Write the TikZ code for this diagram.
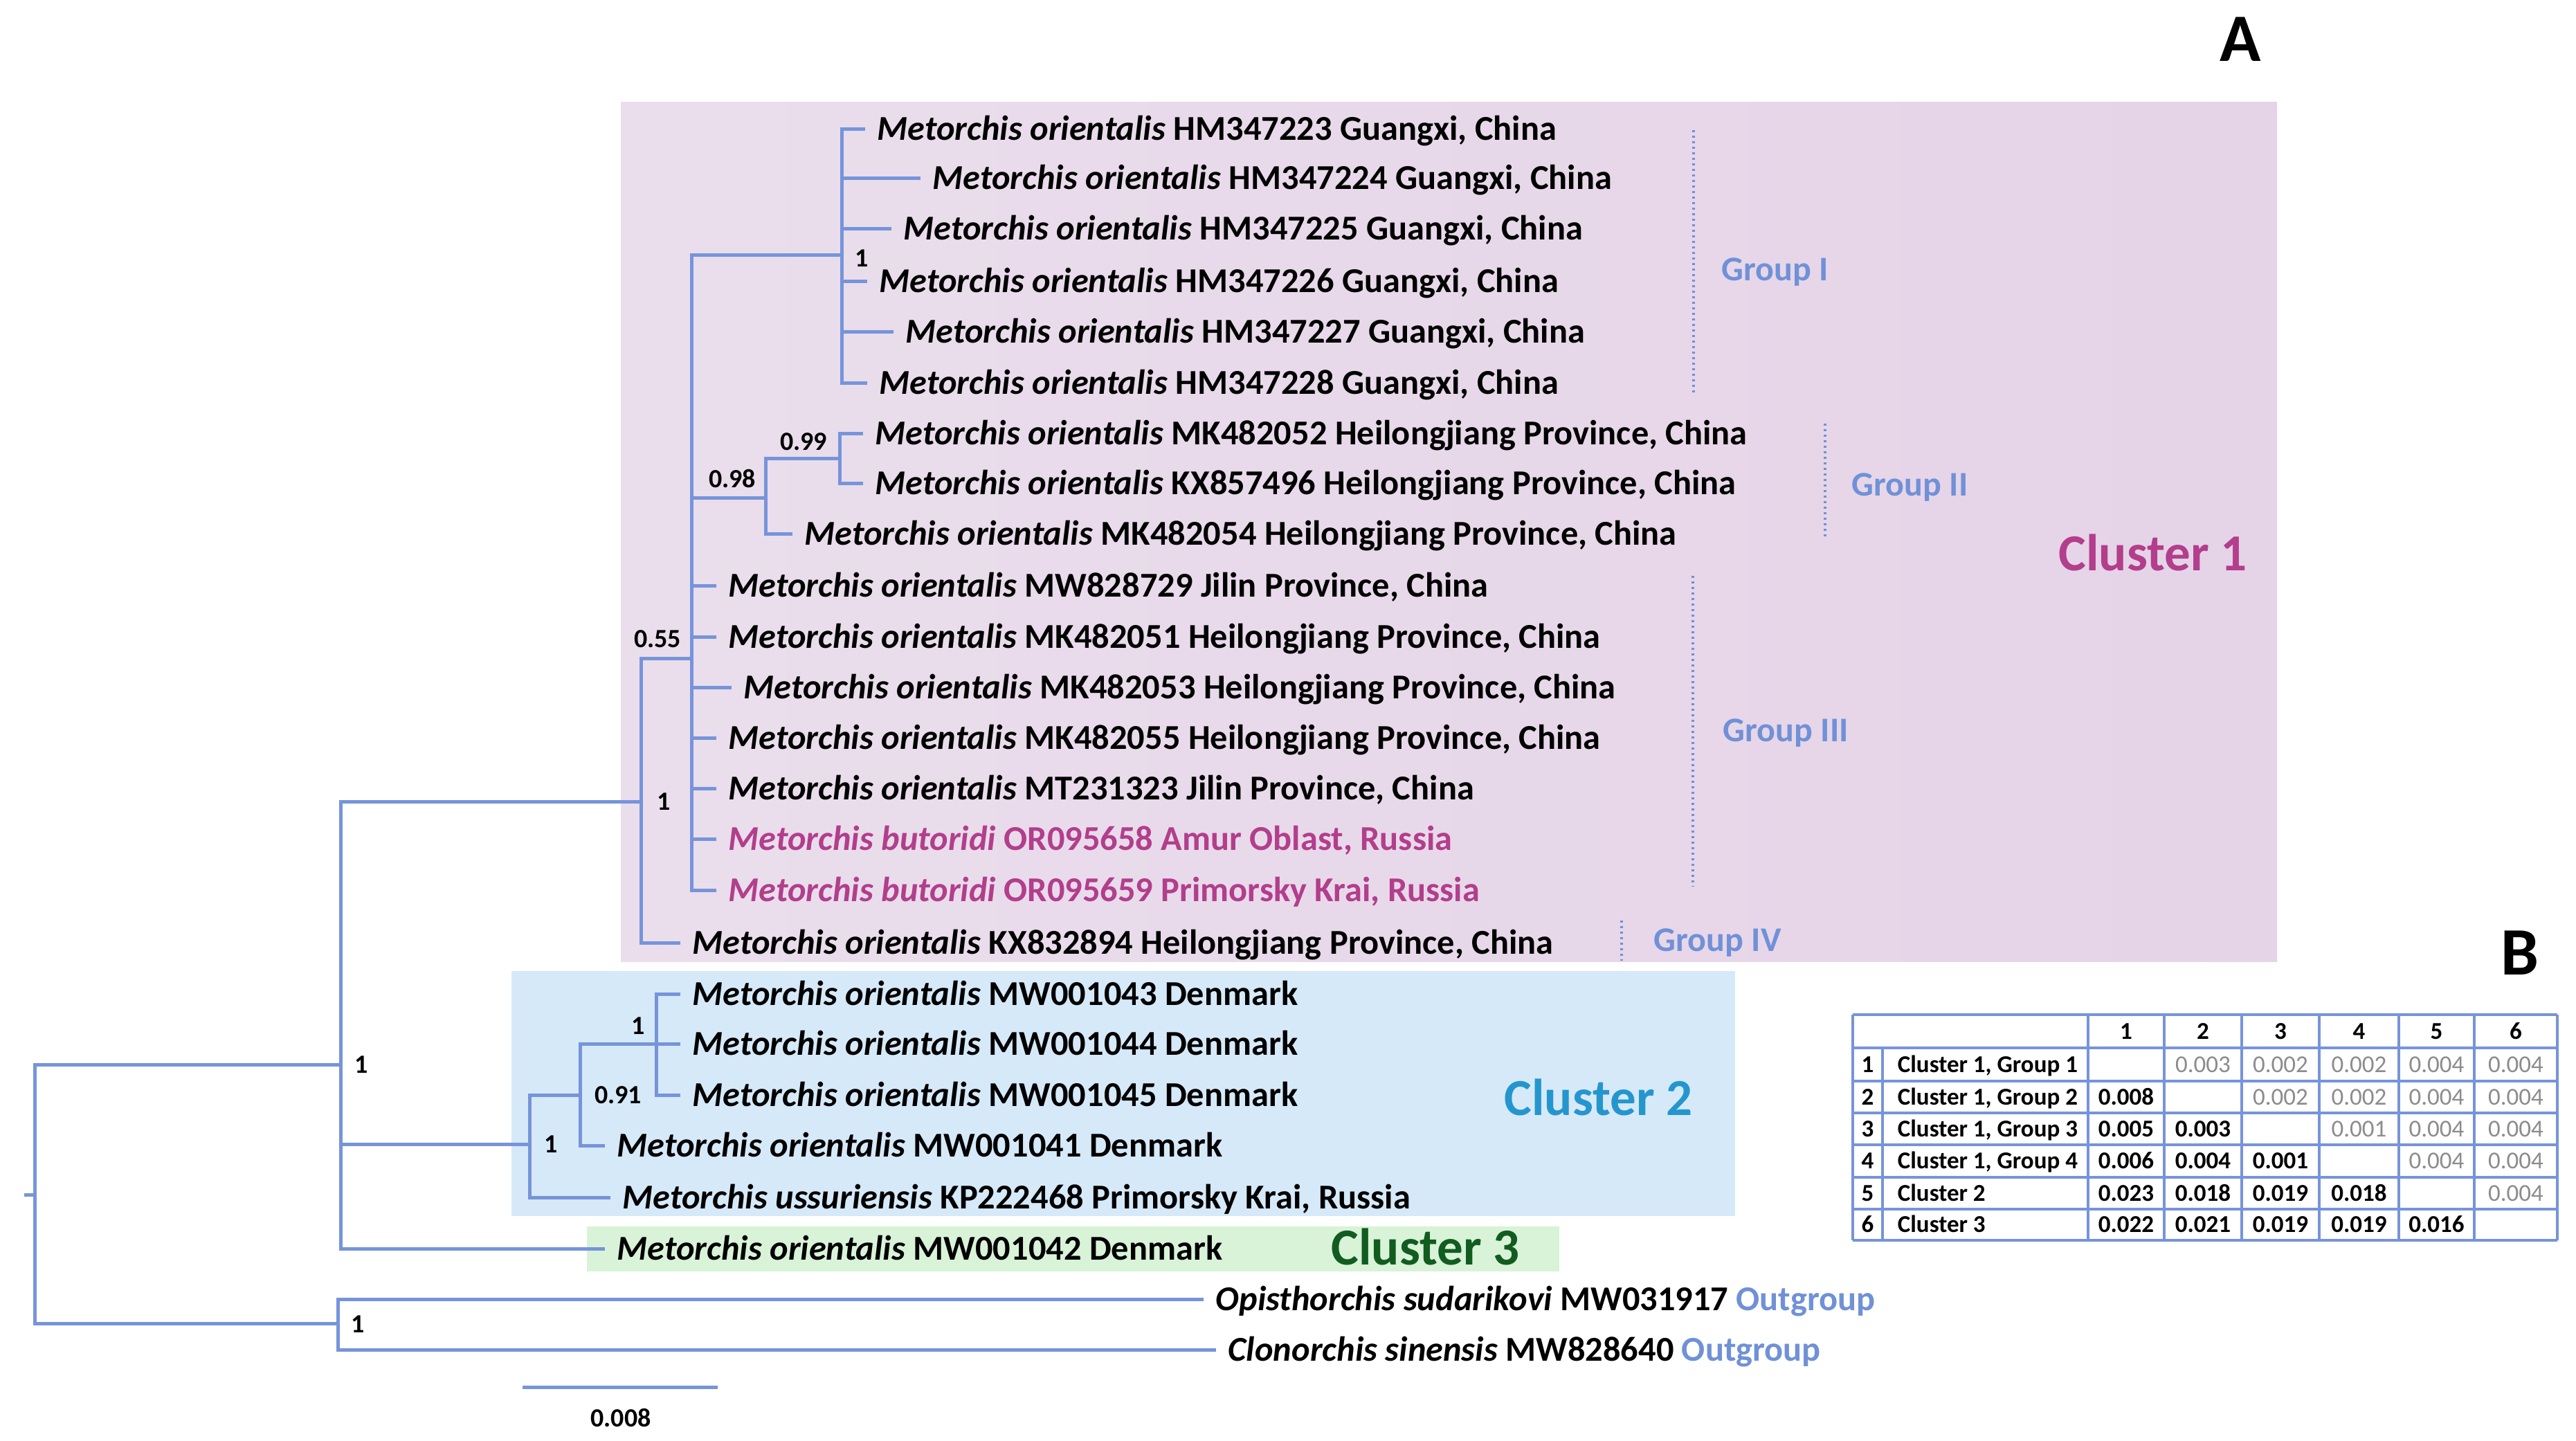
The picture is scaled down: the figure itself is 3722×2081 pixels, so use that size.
\documentclass[tikz,border=0pt]{standalone}
\usepackage{fontspec}
\setmainfont{Carlito}
\definecolor{brc}{RGB}{118,148,218}
\definecolor{grpc}{RGB}{112,145,215}
\definecolor{magc}{RGB}{178,62,140}
\definecolor{c2txt}{RGB}{37,150,205}
\definecolor{c3txt}{RGB}{18,92,32}
\definecolor{c1a}{RGB}{234,222,236}
\definecolor{c1b}{RGB}{229,211,231}
\definecolor{c2bg}{RGB}{214,233,248}
\definecolor{c3bg}{RGB}{216,243,216}
\definecolor{gryc}{RGB}{140,140,140}
\begin{document}
\begin{tikzpicture}[x=0.25pt,y=-0.25pt,
  br/.style={draw=brc,line width=1.25pt},
  leaf/.style={anchor=west,inner xsep=4.25pt,inner ysep=0pt,text height=8pt,text depth=0pt,font=\fontsize{12.6}{14}\selectfont\bfseries},
  suplab/.style={inner sep=0pt,font=\fontsize{9.5}{11}\selectfont\bfseries},
  grplab/.style={anchor=west,inner sep=0pt,text height=8pt,text depth=0pt,text=grpc,font=\fontsize{12.5}{14}\selectfont\bfseries},
  grpline/.style={draw=grpc,line width=1pt,dash pattern=on 0.7pt off 1.3pt},
  clab/.style={anchor=west,inner sep=0pt,text height=12pt,text depth=0pt,font=\fontsize{18.75}{22}\selectfont\bfseries},
  bigl/.style={inner sep=0pt,font=\fontsize{24.5}{28}\selectfont\bfseries},
  tabtxt/.style={inner sep=0pt,text height=5.6pt,text depth=0pt,font=\fontsize{8.75}{10}\selectfont\bfseries},
  tabg/.style={inner sep=0pt,text height=5.6pt,text depth=0pt,font=\fontsize{8.75}{10}\selectfont,text=gryc},
  tline/.style={draw=brc,line width=1pt},
]
\fill[white] (0,0) rectangle (3722,2081);
\useasboundingbox (0,0) rectangle (3722,2081);

% cluster boxes
\shade[left color=c1a,right color=c1b] (897,147) rectangle (3290,1389);
\fill[c2bg] (739,1403) rectangle (2507,1757);
\fill[c3bg] (848,1772) rectangle (2253,1837);

% internal nodes
\coordinate (stub) at (35,1726);
\coordinate (root) at (50,1726);
\coordinate (nIn) at (492,1538);
\coordinate (nOut) at (488,1912);
\coordinate (nC1) at (926,1158);
\coordinate (n055) at (999,951);
\coordinate (nG1) at (1216,368);
\coordinate (n098) at (1106,719);
\coordinate (n099) at (1213,662);
\coordinate (nC2) at (765,1653);
\coordinate (n091) at (838,1582);
\coordinate (nD3) at (948,1508);

% leaves
\node[leaf] (l1) at (1250,186) {\textit{Metorchis orientalis} HM347223 Guangxi, China};
\node[leaf] (l2) at (1330,257) {\textit{Metorchis orientalis} HM347224 Guangxi, China};
\node[leaf] (l3) at (1288,330) {\textit{Metorchis orientalis} HM347225 Guangxi, China};
\node[leaf] (l4) at (1253,406) {\textit{Metorchis orientalis} HM347226 Guangxi, China};
\node[leaf] (l5) at (1291,479) {\textit{Metorchis orientalis} HM347227 Guangxi, China};
\node[leaf] (l6) at (1253,553) {\textit{Metorchis orientalis} HM347228 Guangxi, China};
\node[leaf] (l7) at (1247,626) {\textit{Metorchis orientalis} MK482052 Heilongjiang Province, China};
\node[leaf] (l8) at (1247,698) {\textit{Metorchis orientalis} KX857496 Heilongjiang Province, China};
\node[leaf] (l9) at (1145,771) {\textit{Metorchis orientalis} MK482054 Heilongjiang Province, China};
\node[leaf] (l10) at (1035,846) {\textit{Metorchis orientalis} MW828729 Jilin Province, China};
\node[leaf] (l11) at (1035,920) {\textit{Metorchis orientalis} MK482051 Heilongjiang Province, China};
\node[leaf] (l12) at (1057,993) {\textit{Metorchis orientalis} MK482053 Heilongjiang Province, China};
\node[leaf] (l13) at (1035,1066) {\textit{Metorchis orientalis} MK482055 Heilongjiang Province, China};
\node[leaf] (l14) at (1035,1139) {\textit{Metorchis orientalis} MT231323 Jilin Province, China};
\node[leaf,text=magc] (l15) at (1035,1212) {\textit{Metorchis butoridi} OR095658 Amur Oblast, Russia};
\node[leaf,text=magc] (l16) at (1035,1286) {\textit{Metorchis butoridi} OR095659 Primorsky Krai, Russia};
\node[leaf] (l17) at (983,1362) {\textit{Metorchis orientalis} KX832894 Heilongjiang Province, China};
\node[leaf] (l18) at (983,1436) {\textit{Metorchis orientalis} MW001043 Denmark};
\node[leaf] (l19) at (983,1508) {\textit{Metorchis orientalis} MW001044 Denmark};
\node[leaf] (l20) at (983,1582) {\textit{Metorchis orientalis} MW001045 Denmark};
\node[leaf] (l21) at (874,1655) {\textit{Metorchis orientalis} MW001041 Denmark};
\node[leaf] (l22) at (882,1730) {\textit{Metorchis ussuriensis} KP222468 Primorsky Krai, Russia};
\node[leaf] (l23) at (874,1804) {\textit{Metorchis orientalis} MW001042 Denmark};
\node[leaf] (l24) at (1739,1877) {\textit{Opisthorchis sudarikovi} MW031917 \textcolor{grpc}{Outgroup}};
\node[leaf] (l25) at (1757,1950) {\textit{Clonorchis sinensis} MW828640 \textcolor{grpc}{Outgroup}};

% branches
\draw[br] (stub) -- (root);
\draw[br] (root) |- (nIn);
\draw[br] (root) |- (nOut);
\draw[br] (nIn) |- (nC1);
\draw[br] (nIn) |- (nC2);
\draw[br] (nIn) |- (l23.west);
\draw[br] (nOut) |- (l24.west);
\draw[br] (nOut) |- (l25.west);
\draw[br] (nC1) |- (n055);
\draw[br] (nC1) |- (l17.west);
\draw[br] (n055) |- (nG1);
\draw[br] (n055) |- (n098);
\foreach \i in {10,...,16} { \draw[br] (n055) |- (l\i.west); }
\foreach \i in {1,...,6} { \draw[br] (nG1) |- (l\i.west); }
\draw[br] (n098) |- (n099);
\draw[br] (n098) |- (l9.west);
\draw[br] (n099) |- (l7.west);
\draw[br] (n099) |- (l8.west);
\draw[br] (nC2) |- (n091);
\draw[br] (nC2) |- (l22.west);
\draw[br] (n091) |- (nD3);
\draw[br] (n091) |- (l21.west);
\foreach \i in {18,19,20} { \draw[br] (nD3) |- (l\i.west); }

% support values
\node[suplab] (sIn) at (522,1538) {1};
\node[suplab] (sOut) at (517,1913) {1};
\node[suplab] (sC1) at (959,1158) {1};
\node[suplab] (s055) at (950,923) {0.55};
\node[suplab] (sG1) at (1245,373) {1};
\node[suplab] (s098) at (1058,691) {0.98};
\node[suplab] (s099) at (1161,638) {0.99};
\node[suplab] (sC2) at (796,1653) {1};
\node[suplab] (s091) at (893,1582) {0.91};
\node[suplab] (sD3) at (922,1482) {1};

% groups
\coordinate (g1a) at (2447,188); \coordinate (g1b) at (2447,570);
\coordinate (g2a) at (2637,612); \coordinate (g2b) at (2637,776);
\coordinate (g3a) at (2446,832); \coordinate (g3b) at (2446,1281);
\coordinate (g4a) at (2343,1330); \coordinate (g4b) at (2343,1388);
\draw[grpline] (g1a) -- (g1b);
\draw[grpline] (g2a) -- (g2b);
\draw[grpline] (g3a) -- (g3b);
\draw[grpline] (g4a) -- (g4b);
\node[grplab] (gl1) at (2487,389) {Group I};
\node[grplab] (gl2) at (2675,700) {Group II};
\node[grplab] (gl3) at (2489,1055) {Group III};
\node[grplab] (gl4) at (2389,1358) {Group IV};

% cluster labels
\node[clab,text=magc] (cl1) at (2974,800) {Cluster 1};
\node[clab,text=c2txt] (cl2) at (2173,1587) {Cluster 2};
\node[clab,text=c3txt] (cl3) at (1923,1803) {Cluster 3};

% panel letters
\node[bigl] (pA) at (3237,57) {A};
\node[bigl] (pB) at (3641,1377) {B};

% scale bar
\coordinate (sb1) at (755,2004);
\coordinate (sb2) at (1037,2004);
\draw[br] (sb1) -- (sb2);
\node[suplab] (sbl) at (897,2048) {0.008};

% table grid
\foreach \yy in {1466,1514,1562,1608,1654,1701,1747,1792} { \draw[tline] (2677,\yy) -- (3695,\yy); }
\foreach \xx in {2677,3017,3127,3239,3351,3466,3575,3695} { \draw[tline] (\xx,1466) -- (\xx,1792); }
\draw[tline] (2720,1514) -- (2720,1792);
% header
\foreach \c/\xx in {1/3072,2/3183,3/3295,4/3408.5,5/3520.5,6/3635} {
  \node[tabtxt] (th\c) at (\xx,1490) {\c};
}
% row labels
\foreach \r/\yy/\nm in {1/1538/{Cluster 1, Group 1},2/1585/{Cluster 1, Group 2},3/1631/{Cluster 1, Group 3},4/1677.5/{Cluster 1, Group 4},5/1724/{Cluster 2},6/1769.5/{Cluster 3}} {
  \node[tabtxt] (ti\r) at (2698.5,\yy) {\r};
  \node[tabtxt,anchor=west] (tn\r) at (2741,\yy) {\nm};
}
% values
\foreach \r/\yy/\c/\xx/\v/\s in {
  1/1538/2/3183/0.003/tabg,1/1538/3/3295/0.002/tabg,1/1538/4/3408.5/0.002/tabg,1/1538/5/3520.5/0.004/tabg,1/1538/6/3635/0.004/tabg,
  2/1585/1/3072/0.008/tabtxt,2/1585/3/3295/0.002/tabg,2/1585/4/3408.5/0.002/tabg,2/1585/5/3520.5/0.004/tabg,2/1585/6/3635/0.004/tabg,
  3/1631/1/3072/0.005/tabtxt,3/1631/2/3183/0.003/tabtxt,3/1631/4/3408.5/0.001/tabg,3/1631/5/3520.5/0.004/tabg,3/1631/6/3635/0.004/tabg,
  4/1677.5/1/3072/0.006/tabtxt,4/1677.5/2/3183/0.004/tabtxt,4/1677.5/3/3295/0.001/tabtxt,4/1677.5/5/3520.5/0.004/tabg,4/1677.5/6/3635/0.004/tabg,
  5/1724/1/3072/0.023/tabtxt,5/1724/2/3183/0.018/tabtxt,5/1724/3/3295/0.019/tabtxt,5/1724/4/3408.5/0.018/tabtxt,5/1724/6/3635/0.004/tabg,
  6/1769.5/1/3072/0.022/tabtxt,6/1769.5/2/3183/0.021/tabtxt,6/1769.5/3/3295/0.019/tabtxt,6/1769.5/4/3408.5/0.019/tabtxt,6/1769.5/5/3520.5/0.016/tabtxt} {
  \node[\s] (tv\r-\c) at (\xx,\yy) {\v};
}
\end{tikzpicture}
\end{document}
